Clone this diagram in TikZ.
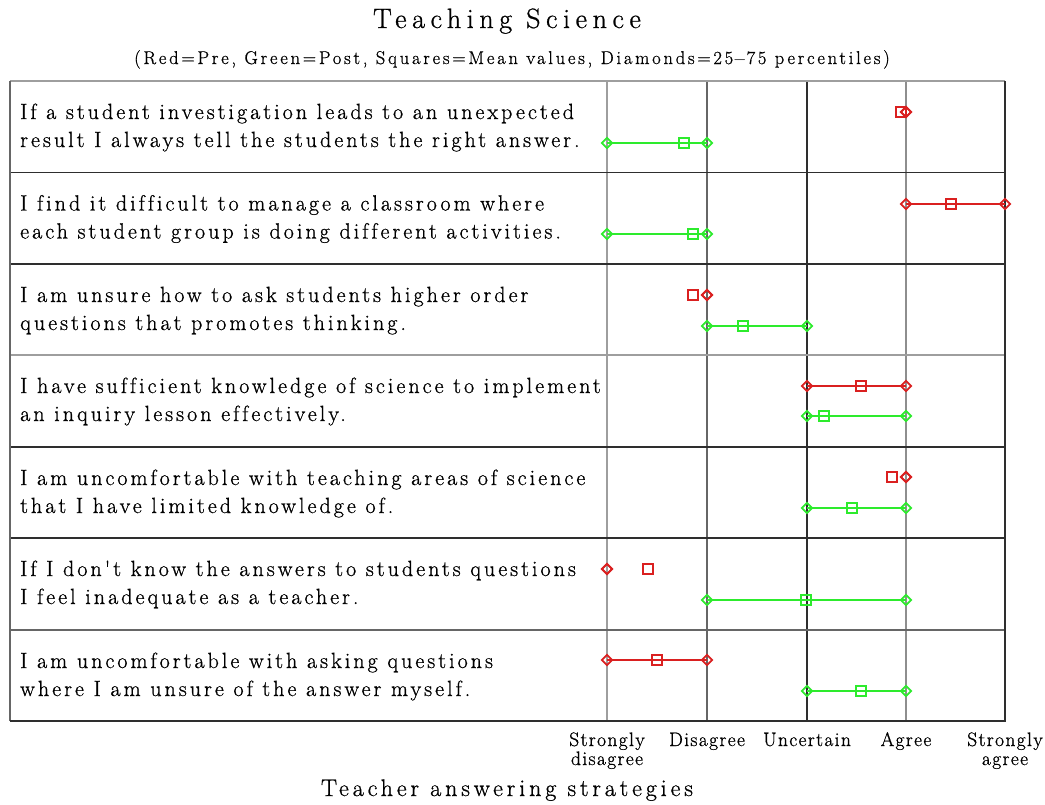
\documentclass[tikz,border=0pt]{standalone}
\usepackage{fontspec}
\setmainfont{Latin Modern Roman}
% spaced-out faces for the different text levels
\newfontfamily\headfont{Latin Modern Roman}[LetterSpace=20,Ligatures=NoCommon,FakeBold=0.8]
\newfontfamily\notefont{Latin Modern Roman}[LetterSpace=15,Ligatures=NoCommon,FakeBold=0.8]
\newfontfamily\itemfont{Latin Modern Roman}[LetterSpace=13.8,Ligatures=NoCommon,FakeBold=0.8]
\newfontfamily\tickfont{Latin Modern Roman}[LetterSpace=7,Ligatures=NoCommon,FakeBold=0.8]
\newfontfamily\axisfont{Latin Modern Roman}[LetterSpace=16.3,Ligatures=NoCommon,FakeBold=0.8]
\usetikzlibrary{shapes.geometric}

\definecolor{prered}{RGB}{218,32,32}
\definecolor{postgreen}{RGB}{45,235,45}
\definecolor{gridlight}{gray}{0.62}
\definecolor{gridmid}{gray}{0.4}
\definecolor{griddark}{gray}{0.18}

% one response series: name, y, colour, lower quartile, mean, upper quartile
\newcommand\series[6]{%
  \node[meanbox,draw=#3] (#1m) at (#5,#2) {};
  \node[quartile,draw=#3] (#1a) at (#4,#2) {};
  \node[quartile,draw=#3] (#1b) at (#6,#2) {};
  \draw[spanline,draw=#3] (#1a.center) -- (#1b.center);}

\begin{document}
\begin{tikzpicture}[x=1pt,y=-1pt,
  quartile/.style={diamond,line width=1.8pt,minimum width=11pt,minimum height=11pt,inner sep=0pt},
  meanbox/.style={rectangle,line width=1.8pt,minimum size=10pt,inner sep=0pt},
  spanline/.style={line width=2pt},
  stmt/.style={anchor=base west,inner sep=0pt,font=\itemfont\fontsize{22}{26}\selectfont},
  scalelabel/.style={anchor=base,inner sep=0pt,font=\tickfont\fontsize{19.5}{23}\selectfont},
  gridrule/.style={line width=1.3pt}]
\useasboundingbox (0,0) rectangle (1045,804);
\fill[white] (0,0) rectangle (1045,804);

% headings
\node[anchor=base,inner sep=0pt,font=\headfont\fontsize{28}{32}\selectfont] (title) at (507,28) {Teaching Science};
\node[anchor=base,inner sep=0pt,font=\notefont\fontsize{18.5}{22}\selectfont] (legend) at (512,64)
  {(Red=Pre, Green=Post, Squares=Mean values, Diamonds=25$-$75 percentiles)};

% grid: scale positions
\draw[gridrule,gridlight] (607,81) -- (607,721);
\draw[gridrule,gridmid] (707,81) -- (707,721);
\draw[gridrule,griddark] (807,81) -- (807,721);
\draw[gridrule,gridlight!90!black] (906,81) -- (906,721);
% grid: row separators
\draw[gridrule,griddark] (10,172.5) -- (1005,172.5);
\draw[gridrule,griddark] (10,264) -- (1005,264);
\draw[gridrule,gridlight] (10,355) -- (1005,355);
\draw[gridrule,griddark] (10,447) -- (1005,447);
\draw[gridrule,griddark] (10,538) -- (1005,538);
\draw[gridrule,gridmid] (10,630) -- (1005,630);
% frame
\draw[gridrule,gridlight] (10,81) -- (1005,81);
\draw[gridrule,gridmid] (10,81) -- (10,721);
\draw[gridrule,griddark] (1005,81) -- (1005,721) -- (10,721);

% statements
\node[stmt] (s1a) at (20,119) {If a student investigation leads to an unexpected};
\node[stmt] (s1b) at (20,147) {result I always tell the students the right answer.};
\node[stmt] (s2a) at (20,210.5) {I find it difficult to manage a classroom where};
\node[stmt] (s2b) at (20,238.5) {each student group is doing different activities.};
\node[stmt] (s3a) at (20,302) {I am unsure how to ask students higher order};
\node[stmt] (s3b) at (20,330) {questions that promotes thinking.};
\node[stmt] (s4a) at (20,393) {I have sufficient knowledge of science to implement};
\node[stmt] (s4b) at (20,421) {an inquiry lesson effectively.};
\node[stmt] (s5a) at (20,485) {I am uncomfortable with teaching areas of science};
\node[stmt] (s5b) at (20,513) {that I have limited knowledge of.};
\node[stmt] (s6a) at (20,576) {If I don't know the answers to students questions};
\node[stmt] (s6b) at (20,604) {I feel inadequate as a teacher.};
\node[stmt] (s7a) at (20,668) {I am uncomfortable with asking questions};
\node[stmt] (s7b) at (20,696) {where I am unsure of the answer myself.};

% responses: red = pre, green = post
\series{p1}{112}{prered}{906}{901}{906}
\series{g1}{143}{postgreen}{607}{684}{707}
\series{p2}{204}{prered}{906}{951}{1005}
\series{g2}{234}{postgreen}{607}{693}{707}
\series{p3}{295}{prered}{707}{693}{707}
\series{g3}{326}{postgreen}{707}{743}{807}
\series{p4}{386}{prered}{807}{861}{906}
\series{g4}{416}{postgreen}{807}{824}{906}
\series{p5}{477}{prered}{906}{892}{906}
\series{g5}{508}{postgreen}{807}{852}{906}
\series{p6}{569}{prered}{607}{648}{607}
\series{g6}{600}{postgreen}{707}{806}{906}
\series{p7}{660}{prered}{607}{657}{707}
\series{g7}{691}{postgreen}{807}{861}{906}

% scale labels
\node[scalelabel] (sd1) at (607,746) {Strongly};
\node[scalelabel] (sd2) at (607,765) {disagree};
\node[scalelabel] (d) at (707,746) {Disagree};
\node[scalelabel] (u) at (807,746) {Uncertain};
\node[scalelabel] (a) at (906,746) {Agree};
\node[scalelabel] (sa1) at (1005,746) {Strongly};
\node[scalelabel] (sa2) at (1005,765) {agree};

\node[anchor=base,inner sep=0pt,font=\axisfont\fontsize{24}{28}\selectfont] (xlabel) at (507,796) {Teacher answering strategies};
\end{tikzpicture}
\end{document}
